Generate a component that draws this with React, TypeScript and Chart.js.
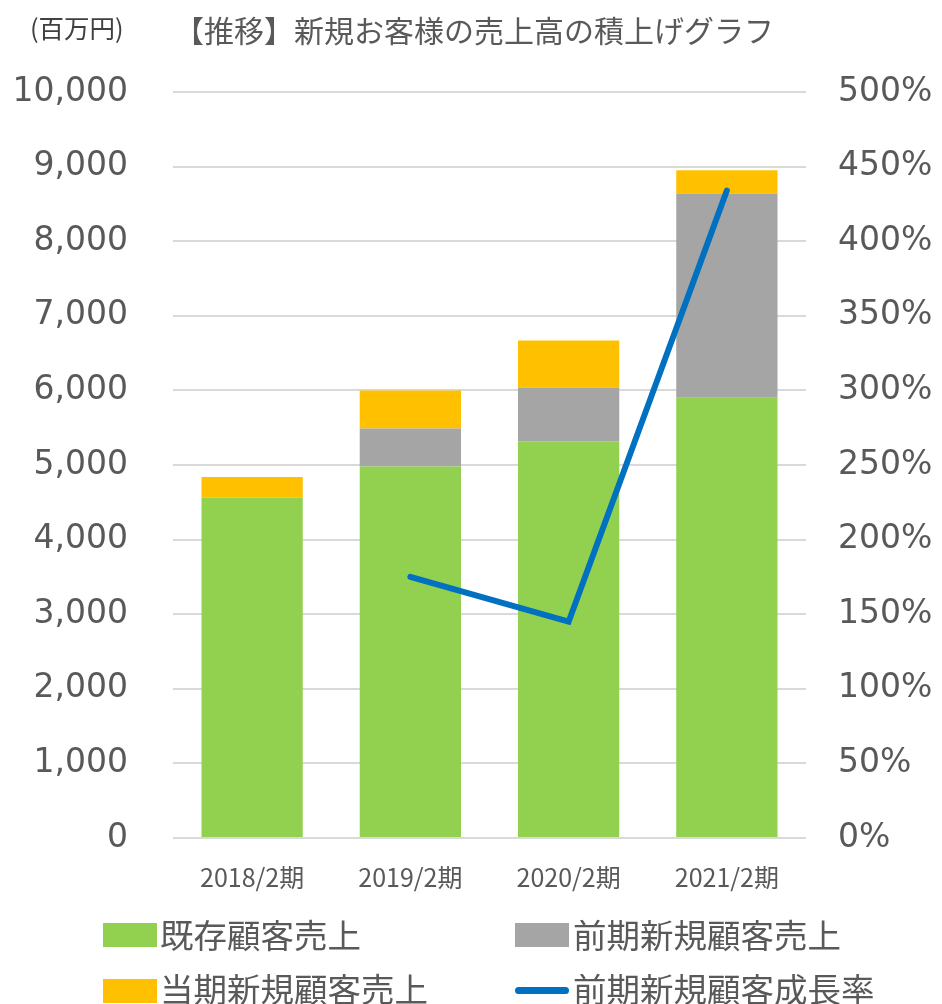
import React, { useEffect, useRef } from "react";
import { Chart, registerables } from "chart.js";

Chart.register(...registerables);

const categories = ["2018/2期", "2019/2期", "2020/2期", "2021/2期"];
const existingSales = [4560, 4980, 5320, 5900];
const prevNewSales = [0, 510, 720, 2740];
const currNewSales = [280, 510, 630, 310];
const prevNewGrowth = [null, 175, 145, 434];
const leftTicks = { min: 0, max: 10000, step: 1000 };
const rightTicks = { min: 0, max: 500, step: 50 };

const GREEN = "#92D050";
const GRAY = "#A5A5A5";
const YELLOW = "#FFC000";
const BLUE = "#0070C0";
const TEXT = "#595959";
const CJK = '"Noto Sans CJK JP", "Noto Sans", sans-serif';
const NUM = '"DejaVu Sans", Verdana, sans-serif';

export default function App() {
  const ref = useRef<HTMLCanvasElement | null>(null);

  useEffect(() => {
    document.body.style.margin = "0";
    const canvas = ref.current;
    if (!canvas) return;
    const chart = new Chart(canvas, {
      type: "bar",
      data: {
        labels: categories,
        datasets: [
          {
            type: "line",
            label: "前期新規顧客成長率",
            data: prevNewGrowth as any,
            yAxisID: "y1",
            borderColor: BLUE,
            backgroundColor: BLUE,
            borderWidth: 6,
            pointRadius: 0,
            borderCapStyle: "round",
            borderJoinStyle: "miter",
            spanGaps: false,
            order: 0,
          } as any,
          {
            label: "既存顧客売上",
            data: existingSales,
            backgroundColor: GREEN,
            stack: "s",
            yAxisID: "y",
            order: 1,
          },
          {
            label: "前期新規顧客売上",
            data: prevNewSales,
            backgroundColor: GRAY,
            stack: "s",
            yAxisID: "y",
            order: 1,
          },
          {
            label: "当期新規顧客売上",
            data: currNewSales,
            backgroundColor: YELLOW,
            stack: "s",
            yAxisID: "y",
            order: 1,
          },
        ],
      },
      options: {
        responsive: false,
        animation: false,
        layout: { padding: { top: 92, bottom: 96, left: 0, right: 0 } },
        plugins: {
          legend: { display: false },
          tooltip: { enabled: false },
          title: { display: false },
        },
        datasets: {
          bar: { categoryPercentage: 1, barPercentage: 0.64 },
        },
        scales: {
          x: {
            stacked: true,
            grid: { display: false, drawTicks: false },
            border: { display: false },
            ticks: {
              color: TEXT,
              font: { family: CJK, size: 25 },
              padding: 24,
              maxRotation: 0,
            },
            afterFit: (s: any) => {
              s.height = 70;
            },
          },
          y: {
            stacked: true,
            position: "left",
            min: leftTicks.min,
            max: leftTicks.max,
            grid: { color: "#D9D9D9", lineWidth: 2, drawTicks: false },
            border: { display: false },
            ticks: {
              stepSize: leftTicks.step,
              color: TEXT,
              font: { family: NUM, size: 33 },
              padding: 45,
              callback: (v: any) => Number(v).toLocaleString("en-US"),
            },
            afterFit: (s: any) => {
              s.width = 173;
            },
          },
          y1: {
            position: "right",
            min: rightTicks.min,
            max: rightTicks.max,
            grid: { display: false, drawTicks: false },
            border: { display: false },
            ticks: {
              stepSize: rightTicks.step,
              color: TEXT,
              font: { family: NUM, size: 33 },
              padding: 32,
              callback: (v: any) => `${v}%`,
            },
            afterFit: (s: any) => {
              s.width = 136;
            },
          },
        },
      },
    });
    return () => chart.destroy();
  }, []);

  const legendText: React.CSSProperties = {
    position: "absolute",
    fontFamily: CJK,
    fontSize: 33.5,
    color: TEXT,
    lineHeight: "40px",
    whiteSpace: "nowrap",
  };
  const swatch = (left: number, top: number, color: string): React.CSSProperties => ({
    position: "absolute",
    left,
    top,
    width: 54,
    height: 24,
    background: color,
  });

  return (
    <div style={{ position: "relative", width: 942, height: 1004, background: "#fff", overflow: "hidden" }}>
      <canvas ref={ref} width={942} height={1004} style={{ display: "block" }} />
      <div style={{ position: "absolute", left: 30, top: 11, fontFamily: CJK, fontSize: 25.5, color: "#404040", lineHeight: "32px", whiteSpace: "nowrap" }}>
        (百万円)
      </div>
      <div style={{ position: "absolute", left: 174, top: 10, fontFamily: CJK, fontSize: 30, color: TEXT, lineHeight: "38px", whiteSpace: "nowrap" }}>
        【推移】新規お客様の売上高の積上げグラフ
      </div>
      <div style={swatch(103, 923, GREEN)} />
      <div style={{ ...legendText, left: 160, top: 914 }}>既存顧客売上</div>
      <div style={swatch(515, 923, GRAY)} />
      <div style={{ ...legendText, left: 573, top: 914 }}>前期新規顧客売上</div>
      <div style={swatch(103, 979, YELLOW)} />
      <div style={{ ...legendText, left: 160, top: 968 }}>当期新規顧客売上</div>
      <div style={{ position: "absolute", left: 515, top: 987, width: 54, height: 7, borderRadius: 4, background: BLUE }} />
      <div style={{ ...legendText, left: 573, top: 968 }}>前期新規顧客成長率</div>
    </div>
  );
}
